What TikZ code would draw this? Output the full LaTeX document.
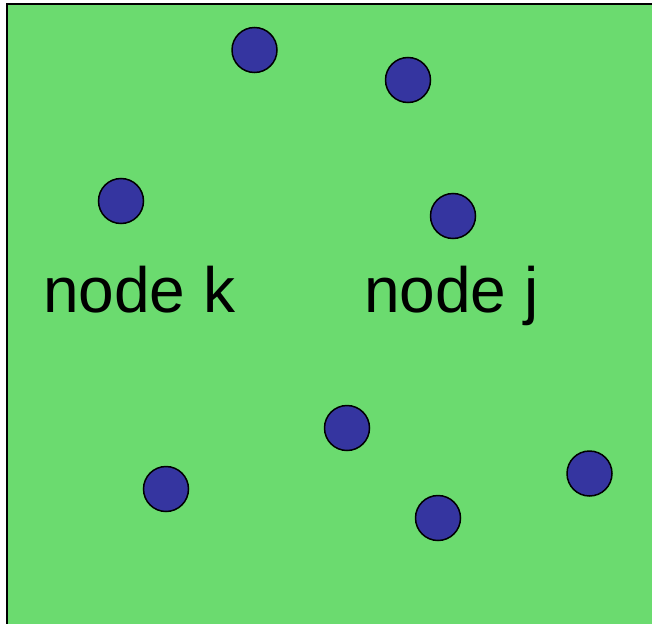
\documentclass[tikz,border=0pt]{standalone}
\usepackage{fontspec}
\setmainfont{Liberation Sans}
\definecolor{field}{RGB}{107,219,111}
\definecolor{dotblue}{RGB}{53,53,160}
\tikzset{
  dot/.style={circle,fill=dotblue,draw=black,line width=1.5pt,minimum size=45pt,inner sep=0pt},
  lbl/.style={anchor=base west,inner sep=0pt,font=\fontsize{64}{64}\selectfont}
}
\begin{document}
\begin{tikzpicture}[x=1pt,y=-1pt]
      \useasboundingbox (0,0) rectangle (652,623);
      \fill[field] (7,4) rectangle (660,630);
      \draw[line width=2pt] (7,630) -- (7,4) -- (660,4);
      % nodes in the field
      \node[dot] (a) at (254.5,50) {};
      \node[dot] (b) at (408,80) {};
      \node[dot] (k) at (121,201) {};
      \node[dot] (j) at (453,216) {};
      \node[dot] (c) at (347,428) {};
      \node[dot] (d) at (166,489) {};
      \node[dot] (e) at (438,518) {};
      \node[dot] (f) at (589.5,473.5) {};
      % labels
      \node[lbl] (lk) at (43,312) {node k};
      \node[lbl] (lj) at (364,312) {node j};
\end{tikzpicture}
\end{document}
